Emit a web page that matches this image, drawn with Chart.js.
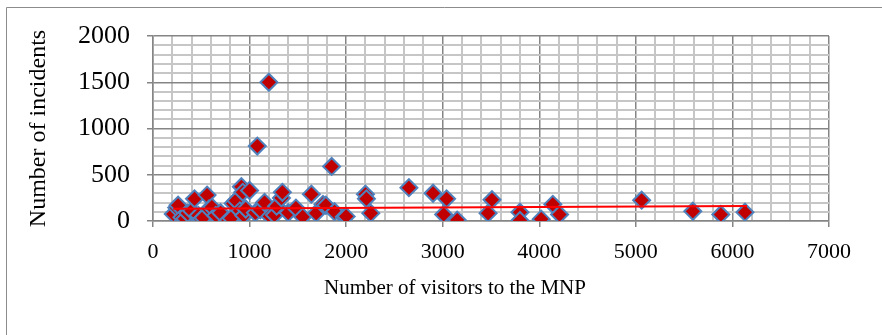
<!DOCTYPE html>
<html lang="en">
<head>
    <meta charset="UTF-8">
    <title>Incidents vs visitors</title>
    <script src="https://cdn.jsdelivr.net/npm/chart.js"></script>
    <style>
        html, body { margin: 0; padding: 0; background: #fff; }
        #wrap { width: 882px; height: 335px; position: relative; }
    </style>
</head>
<body>
    <div id="wrap"><canvas id="chart"></canvas></div>

    <script>
        // visitors to the MNP (x) and incidents (y)
        const visitors = [
            210, 245, 260, 300, 330, 360, 400, 430, 470, 500,
            520, 560, 580, 610, 650, 700, 780, 810, 830, 860,
            900, 915, 930, 940, 960, 1000, 1060, 1080, 1110, 1155,
            1200, 1210, 1258, 1280, 1330, 1340, 1400, 1480, 1550, 1640,
            1690, 1760, 1790, 1850, 1880, 1980, 2000, 2200, 2210, 2255,
            2650, 2900, 3040, 3010, 3150, 3470, 3510, 3800, 3800, 4020,
            4140, 4210, 5060, 5590, 5880, 6130
        ];
        const incidents = [
            75, 145, 170, 40, 25, 85, 110, 240, 60, 20,
            35, 280, 130, 150, 60, 90, 10, 30, 190, 220,
            110, 370, 310, 60, 130, 330, 90, 810, 120, 200,
            1500, 50, 65, 160, 250, 310, 90, 140, 45, 290,
            85, 180, 170, 590, 100, 45, 50, 290, 240, 85,
            360, 300, 240, 70, 10, 85, 230, 95, 5, 20,
            180, 70, 225, 105, 70, 95
        ];
        // linear trend line ends
        const trendX = [210, 6150];
        const trendY = [132, 162];

        const xTitle = 'Number of visitors to the MNP';
        const yTitle = 'Number of incidents';

        const scatterPoints = visitors.map((v, i) => ({ x: v, y: incidents[i] }));
        const trendPoints = trendX.map((v, i) => ({ x: v, y: trendY[i] }));

        const majorGrid = '#858585';
        const minorGrid = '#c6c6c6';

        // outer frame (left and top edges visible) and the x title, which
        // in the original sits centred on the whole chart box, not the plot
        const framePlugin = {
            id: 'frame',
            beforeDraw(chart) {
                const c = chart.ctx;
                c.save();
                c.fillStyle = '#fff';
                c.fillRect(0, 0, chart.width, chart.height);
                c.strokeStyle = '#8c8c8c';
                c.lineWidth = 1;
                c.beginPath();
                c.moveTo(6.5, chart.height);
                c.lineTo(6.5, 7.5);
                c.lineTo(chart.width, 7.5);
                c.stroke();
                c.restore();
            },
            afterDraw(chart) {
                const c = chart.ctx;
                c.save();
                c.fillStyle = '#000';
                c.font = '21px "Liberation Serif"';
                c.textAlign = 'center';
                c.textBaseline = 'middle';
                c.fillText(xTitle, 455, 288);
                c.restore();
            }
        };

        new Chart(document.getElementById('chart'), {
            type: 'scatter',
            data: {
                datasets: [{
                    type: 'line',
                    data: trendPoints,
                    borderColor: '#ff0000',
                    borderWidth: 2,
                    pointRadius: 0,
                    fill: false,
                    order: 0
                }, {
                    data: scatterPoints,
                    pointStyle: 'rectRot',
                    pointRadius: 8.5,
                    backgroundColor: '#c00000',
                    borderColor: '#4f81bd',
                    borderWidth: 2,
                    order: 1
                }]
            },
            options: {
                responsive: true,
                maintainAspectRatio: false,
                animation: false,
                layout: { padding: { left: 0, top: 36, right: 53, bottom: 0 } },
                plugins: {
                    legend: { display: false },
                    tooltip: { enabled: false }
                },
                scales: {
                    x: {
                        type: 'linear',
                        min: 0,
                        max: 7000,
                        afterFit(scale) { scale.height = 114; },
                        ticks: {
                            stepSize: 200,
                            autoSkip: false,
                            maxRotation: 0,
                            padding: 12,
                            color: '#000',
                            font: { family: 'Liberation Serif', size: 22 },
                            callback: v => (v % 1000 === 0 ? v : '')
                        },
                        grid: {
                            color: ctx => (ctx.tick && ctx.tick.value % 1000 === 0 ? majorGrid : minorGrid),
                            lineWidth: ctx => (ctx.tick && ctx.tick.value % 1000 === 0 ? 1.5 : 2),
                            tickColor: ctx => (ctx.tick && ctx.tick.value % 1000 === 0 ? majorGrid : 'rgba(0,0,0,0)'),
                            tickLength: 6
                        },
                        border: { color: majorGrid, width: 1.5 },
                        title: { display: false }
                    },
                    y: {
                        min: 0,
                        max: 2000,
                        afterFit(scale) { scale.width = 153; },
                        ticks: {
                            stepSize: 100,
                            autoSkip: false,
                            padding: 17,
                            color: '#000',
                            font: { family: 'Liberation Serif', size: 26 },
                            callback: v => (v % 500 === 0 ? v : '')
                        },
                        grid: {
                            color: ctx => (ctx.tick && ctx.tick.value % 500 === 0 ? majorGrid : minorGrid),
                            lineWidth: ctx => (ctx.tick && ctx.tick.value % 500 === 0 ? 1.5 : 2),
                            tickColor: ctx => (ctx.tick && ctx.tick.value % 500 === 0 ? majorGrid : 'rgba(0,0,0,0)'),
                            tickLength: 6
                        },
                        border: { color: majorGrid, width: 1.5 },
                        title: {
                            display: true,
                            text: yTitle,
                            color: '#000',
                            font: { family: 'Liberation Serif', size: 24 },
                            padding: { top: 24, bottom: 0 }
                        }
                    }
                }
            },
            plugins: [framePlugin]
        });
    </script>
</body>
</html>
